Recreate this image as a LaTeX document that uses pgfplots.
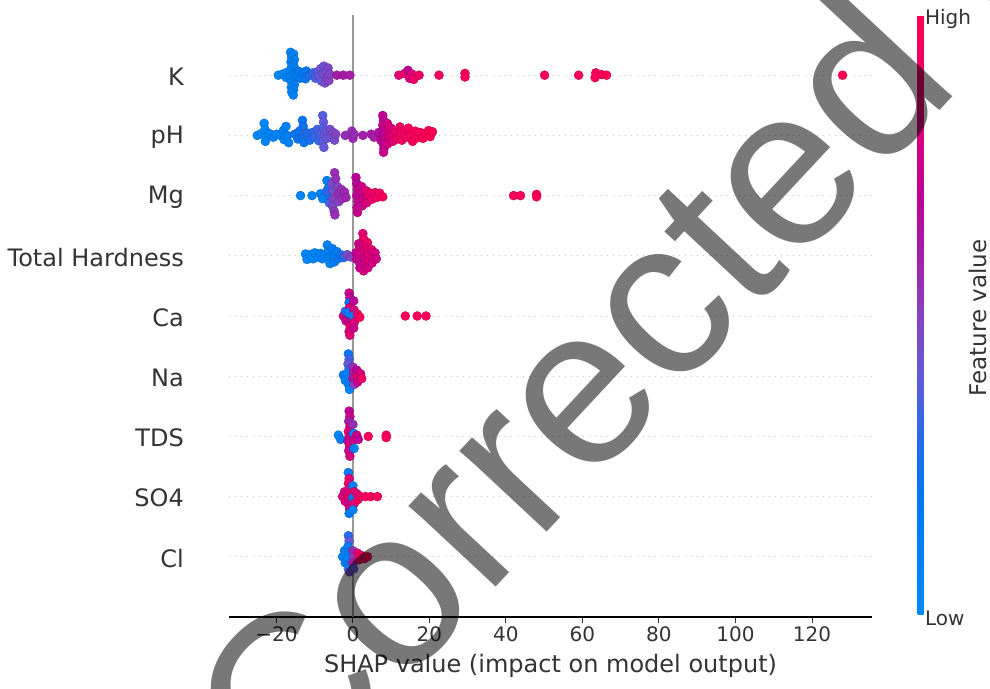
\documentclass[border=0pt]{standalone}
\usepackage{fontspec}
\setmainfont{DejaVu Sans}
\newfontfamily\wmfont{Liberation Sans}
\usepackage{pgfplots}
\usepackage{pgfplotstable}
\pgfplotsset{compat=1.18}
\definecolor{axc}{HTML}{333333}
\definecolor{zl}{HTML}{999999}
\pgfplotsset{
 colormap={shap}{rgb255(0cm)=(0,139,251); rgb255(2cm)=(0,120,243); rgb255(3cm)=(40,105,235); rgb255(4cm)=(100,90,220); rgb255(5cm)=(135,65,195); rgb255(6cm)=(165,30,170); rgb255(7cm)=(190,0,150); rgb255(8.5cm)=(225,0,115); rgb255(10cm)=(255,0,82)}
}
% K (row 9)
\pgfplotstableread{
x d c
-19.5 0 .04
-18.3 0.02 .05
-17.4 -0.04 .06
-17.2 0.05 .05
-16.3 0.38 .08
-15.5 0.35 .1
-16.0 0.30 .07
-15.3 0.26 .09
-16.2 0.22 .1
-15.6 0.18 .08
-16.0 0.14 .12
-15.2 0.11 .1
-16.4 0.07 .06
-15.6 0.04 .12
-14.8 0.05 .15
-16.0 0.0 .1
-15.0 -0.01 .13
-16.3 -0.05 .08
-15.4 -0.08 .1
-16.0 -0.12 .12
-15.3 -0.16 .1
-16.1 -0.20 .09
-15.5 -0.24 .11
-16.0 -0.28 .1
-15.6 -0.33 .09
-14.0 0.06 .17
-13.8 -0.05 .15
-13.0 0.02 .2
-12.4 -0.06 .22
-12.2 0.07 .18
-11.3 0.0 .28
-10.5 0.04 .32
-9.8 -0.05 .35
-9.2 0.06 .38
-8.8 -0.02 .4
-8.4 0.11 .42
-8.2 -0.1 .4
-7.8 0.03 .45
-7.6 0.15 .44
-7.3 -0.13 .46
-7.0 0.07 .45
-6.8 -0.05 .48
-6.5 0.12 .47
-6.3 -0.09 .5
-6.1 0.02 .48
-4.2 0 .6
-2.5 0 .62
-0.8 0 .6
12.0 0 .85
13.5 0.03 .9
14.4 0.08 .7
14.8 -0.05 .8
15.4 0.02 .85
15.9 -0.07 .92
17.3 0 .9
22.5 0 .95
29.3 0.03 .96
29.3 -0.03 .95
50.1 0 .98
59.0 0 .97
63.5 0.04 .95
63.3 -0.04 .97
65.0 0.01 .98
66.3 0 .99
128.0 0 1
}\Krow
% pH (row 8)
\pgfplotstableread{
x d c
-25.0 0 .03
-24.0 0.03 .04
-23.2 0.2 .05
-23.0 0.1 .04
-22.8 -0.02 .05
-22.9 -0.1 .06
-21.8 0.03 .05
-20.8 -0.03 .06
-20.0 0.02 .07
-19.0 0.0 .06
-18.2 0.08 .1
-18.0 -0.07 .12
-17.5 0.15 .08
-17.2 0.0 .1
-16.8 -0.12 .08
-15.2 0.02 .2
-14.4 -0.06 .22
-14.0 0.07 .24
-13.2 0.25 .22
-13.0 0.15 .25
-13.0 -0.02 .26
-12.8 -0.12 .22
-12.0 0.04 .28
-11.3 -0.08 .26
-10.5 0.05 .3
-10.0 -0.03 .32
-9.3 0.1 .34
-8.9 -0.09 .32
-8.5 0.02 .36
-7.9 0.33 .38
-7.7 0.22 .4
-7.7 0.12 .37
-7.5 0.0 .4
-7.8 -0.1 .38
-7.6 -0.2 .4
-7.0 0.07 .42
-6.8 -0.05 .42
-6.0 0.1 .45
-5.8 -0.03 .43
-5.2 0.05 .46
-4.8 -0.08 .45
-4.5 0.02 .5
-2.0 0 .55
-0.3 0.07 .55
0.0 -0.05 .57
0.3 0.02 .56
2.6 0 .6
4.8 0.02 .62
5.5 -0.03 .6
6.8 0.05 .65
7.3 -0.08 .7
7.8 0.33 .72
8.0 0.25 .7
7.8 0.17 .74
8.2 0.1 .72
8.0 0.02 .7
8.3 -0.06 .74
7.9 -0.14 .7
8.1 -0.22 .72
8.0 -0.28 .74
9.0 0.2 .78
9.2 0.08 .8
9.4 -0.04 .8
9.1 -0.14 .78
10.0 0.12 .82
10.2 0.0 .84
10.4 -0.1 .85
11.2 0.06 .88
11.5 -0.06 .9
12.3 0.14 .9
12.5 0.02 .92
12.8 -0.08 .92
13.5 0.08 .93
14.0 -0.03 .94
14.5 0.12 .95
15.0 0.0 .95
15.6 -0.1 .95
16.3 0.07 .96
16.8 -0.04 .96
17.5 0.05 .97
18.3 -0.05 .97
19.0 0.04 .98
19.8 0.08 .98
20.2 -0.02 .99
20.8 0.06 .99
}\pHrow
% Mg (row 7)
\pgfplotstableread{
x d c
-13.7 0 .05
-10.7 0 .06
-8.5 0.03 .1
-7.9 -0.05 .08
-6.8 0.25 .12
-6.5 0.12 .2
-6.0 -0.02 .18
-7.0 0.06 .3
-6.2 -0.12 .35
-5.5 0.2 .45
-5.2 0.08 .45
-5.0 -0.05 .5
-5.3 -0.18 .48
-4.8 0.38 .55
-4.5 0.28 .55
-4.9 -0.26 .52
-4.7 -0.32 .55
-4.0 0.15 .5
-3.8 0.03 .55
-3.7 -0.1 .5
-3.0 0.1 .55
-2.8 -0.05 .55
-2.2 0.06 .57
-1.8 -0.03 .58
0.8 0.3 .7
1.0 0.2 .68
1.2 0.1 .72
1.0 0.0 .7
1.3 -0.1 .72
1.1 -0.2 .7
1.2 -0.28 .72
2.3 0.15 .75
2.5 0.05 .78
2.6 -0.06 .75
2.4 -0.17 .76
3.5 0.08 .85
3.8 -0.03 .87
3.6 -0.12 .82
4.6 0.04 .9
5.0 -0.06 .9
5.8 0.05 .92
6.3 -0.03 .93
7.0 0.04 .95
7.8 -0.02 .96
42.0 0 .95
43.8 0 .97
48.0 0.02 .97
48.0 -0.02 .98
}\Mgrow
% Total Hardness (row 6)
\pgfplotstableread{
x d c
-12.4 0.03 .03
-12.0 -0.06 .04
-11.2 0.02 .05
-10.4 -0.05 .05
-10.0 0.05 .06
-9.2 -0.02 .06
-8.5 0.04 .07
-8.0 -0.05 .08
-7.5 0.02 .08
-6.7 0.18 .1
-6.4 0.08 .1
-6.2 -0.04 .12
-6.0 -0.13 .1
-5.4 0.12 .14
-5.0 0.0 .13
-4.8 -0.1 .15
-4.2 0.07 .16
-3.9 -0.05 .2
-3.2 0.02 .25
-2.4 -0.03 .3
-1.5 0.02 .45
-0.6 -0.02 .5
0.8 0.05 .7
1.0 -0.06 .72
1.5 0.2 .75
1.7 0.12 .78
1.8 0.02 .75
1.6 -0.1 .72
1.8 -0.2 .74
2.6 0.37 .85
2.8 0.28 .9
2.7 0.18 .8
3.0 0.08 .82
3.1 -0.03 .78
2.9 -0.14 .75
2.8 -0.25 .8
3.8 0.22 .9
4.0 0.12 .88
4.1 0.0 .85
4.0 -0.1 .82
3.9 -0.2 .78
4.9 0.1 .85
5.1 -0.02 .83
5.0 -0.12 .8
5.8 0.05 .8
6.1 -0.05 .78
}\THrow
% Ca (row 5)
\pgfplotstableread{
x d c
-2.5 0.0 .8
-2.0 0.08 .3
-1.8 -0.08 .75
-1.0 0.38 .75
-0.8 0.3 .7
-1.0 0.22 .2
-0.8 0.14 .85
-1.1 0.06 .1
-0.6 -0.02 .15
-1.2 -0.1 .7
-0.7 -0.18 .9
-1.0 -0.26 .8
-0.8 -0.32 .85
0.2 0.25 .7
0.3 0.1 .8
0.0 0.0 .12
0.4 -0.1 .85
0.2 -0.2 .75
1.2 0.03 .9
1.8 -0.02 .95
13.7 0 .96
16.8 0 .96
19.1 0 .97
}\Carow
% Na (row 4)
\pgfplotstableread{
x d c
-2.5 0.02 .15
-2.0 -0.07 .1
-1.2 0.37 .2
-1.0 0.28 .35
-1.3 0.2 .4
-1.0 0.12 .3
-1.4 0.04 .08
-1.0 -0.05 .1
-1.2 -0.13 .15
-0.9 -0.22 .05
0.0 0.15 .55
0.2 0.06 .6
0.0 -0.04 .65
0.3 -0.14 .5
1.0 0.1 .7
1.3 0.0 .95
1.2 -0.1 .75
2.0 0.04 .8
2.3 -0.04 .9
}\Narow
% TDS (row 3)
\pgfplotstableread{
x d c
-3.8 0.02 .1
-3.2 -0.05 .15
-1.0 0.42 .7
-0.8 0.33 .75
-1.1 0.25 .6
-0.8 0.16 .8
-1.2 0.08 .85
-1.0 0.0 .8
-1.3 -0.08 .7
-0.9 -0.16 .85
-1.1 -0.24 .75
-0.8 -0.33 .8
0.0 0.2 .55
0.2 0.05 .1
0.0 -0.07 .75
0.3 -0.2 .1
1.0 0.02 .8
1.4 -0.05 .7
4.0 0 .95
8.7 0.02 .96
8.7 -0.02 .96
}\TDSrow
% SO4 (row 2)
\pgfplotstableread{
x d c
-2.7 0.0 .85
-2.2 0.08 .8
-2.0 -0.08 .8
-1.2 0.4 .15
-1.0 0.3 .85
-1.2 0.22 .9
-0.9 0.14 .8
-1.3 0.05 .85
-1.0 -0.04 .9
-1.2 -0.12 .75
-0.9 -0.2 .8
-1.0 -0.28 .2
0.0 0.18 .1
0.3 0.08 .85
0.0 -0.02 .2
0.3 -0.12 .85
0.0 -0.22 .1
1.0 0.05 .85
1.3 -0.05 .95
2.0 0.0 .9
3.3 0 .95
4.6 0 .96
6.4 0 .97
}\SOrow
% Cl (row 1)
\pgfplotstableread{
x d c
-2.7 0.0 .08
-2.2 0.1 .1
-2.0 -0.1 .15
-1.2 0.35 .3
-1.0 0.26 .4
-1.3 0.17 .15
-1.0 0.08 .1
-1.3 -0.02 .08
-1.0 -0.12 .2
-1.2 -0.2 .1
-0.9 -0.25 .45
0.0 0.1 .55
0.2 0.0 .5
0.0 -0.1 .6
0.2 -0.2 .4
1.2 0.06 .85
1.5 -0.05 .9
2.3 0.02 .95
3.0 -0.03 .95
3.8 0.0 .97
}\Clrow
\pgfplotsset{dots/.style={scatter, only marks, mark=*, mark size=4.5pt, scatter src=explicit}}
\begin{document}
\begin{tikzpicture}
\useasboundingbox (0,0) rectangle (990pt,688pt);
\begin{axis}[
  at={(229pt,71pt)}, anchor=south west,
  scale only axis, width=643pt, height=602pt,
  xmin=-32.4, xmax=135.7, ymin=0, ymax=10,
  axis x line*=bottom, axis y line*=left,
  y axis line style={draw=none},
  x axis line style={black, line width=1.2pt},
  xtick={-20,0,20,40,60,80,100,120},
  xticklabels={−20,0,20,40,60,80,100,120},
  xtick style={axc, line width=0.9pt},
  major tick length=6pt, tick align=outside,
  ytick={1,2,3,4,5,6,7,8,9},
  yticklabels={Cl,SO4,TDS,Na,Ca,Total Hardness,Mg,pH,K},
  ytick style={draw=none},
  ymajorgrids, major grid style={gray!45, line width=0.8pt, dash pattern=on 1pt off 5pt},
  xticklabel style={font=\fontsize{20}{24}\selectfont, text=axc},
  yticklabel style={font=\fontsize{24}{28}\selectfont, text=axc, anchor=east, inner sep=0pt, xshift=-39pt, yshift=-1.5pt},
  xlabel={SHAP value (impact on model output)},
  xlabel style={font=\fontsize{24}{28}\selectfont, text=axc, at={(axis description cs:0.5,0)}, anchor=center, yshift=-49pt},
  colormap name=shap,
  point meta min=0, point meta max=1,
  colorbar,
  colorbar style={at={(parent axis.north east)}, anchor=north west, xshift=37pt, yshift=-1pt,
    scale only axis, width=6pt, height=599pt,
    axis line style={draw=none},
    ytick={0,1}, yticklabels={Low,High},
    major tick length=0pt,
    yticklabel style={font=\fontsize{20}{24}\selectfont, text=axc, anchor=west, xshift=-2pt, yshift=-3pt}},
  clip=false,
]
\addplot[dots] table[x=x, y expr=\thisrow{d}+9, meta=c] {\Krow};
\addplot[dots] table[x=x, y expr=\thisrow{d}+8, meta=c] {\pHrow};
\addplot[dots] table[x=x, y expr=\thisrow{d}+7, meta=c] {\Mgrow};
\addplot[dots] table[x=x, y expr=\thisrow{d}+6, meta=c] {\THrow};
\addplot[dots] table[x=x, y expr=\thisrow{d}+5, meta=c] {\Carow};
\addplot[dots] table[x=x, y expr=\thisrow{d}+4, meta=c] {\Narow};
\addplot[dots] table[x=x, y expr=\thisrow{d}+3, meta=c] {\TDSrow};
\addplot[dots] table[x=x, y expr=\thisrow{d}+2, meta=c] {\SOrow};
\addplot[dots] table[x=x, y expr=\thisrow{d}+1, meta=c] {\Clrow};
\draw[zl, line width=2.2pt] (axis cs:0,0) -- (axis cs:0,10);
\end{axis}
\node[rotate=90, font=\fontsize{23}{27}\selectfont, text=axc] at (978pt,370pt) {Feature value};
\node[rotate=47, anchor=base west, inner sep=0pt, font=\wmfont\fontsize{225}{225}\selectfont, text=black, text opacity=0.53] at (289pt,-121pt) {Corrected Proof};
\end{tikzpicture}
\end{document}
